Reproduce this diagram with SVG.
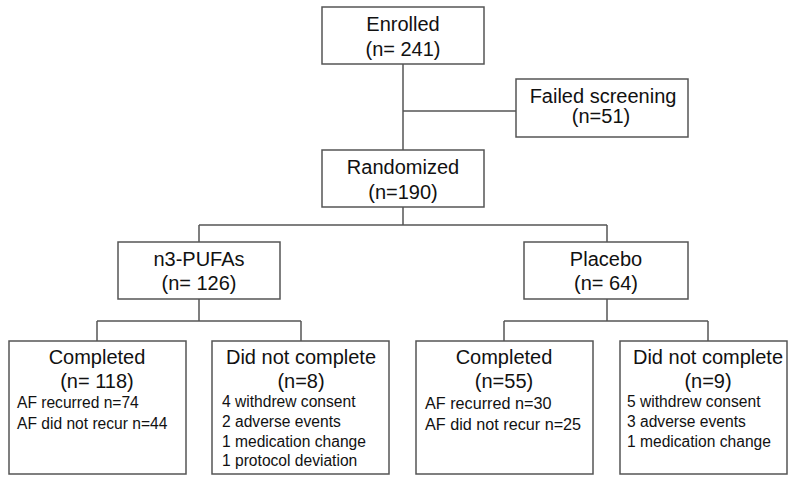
<svg xmlns="http://www.w3.org/2000/svg" width="789" height="477" viewBox="0 0 789 477">
<style>
.box{fill:#fff;stroke:#555;stroke-width:1.5}
.ln{fill:none;stroke:#555;stroke-width:1.5}
.t{font-family:"Liberation Sans",Arial,sans-serif;font-size:20px;fill:#111;text-anchor:middle}
.s{font-family:"Liberation Sans",Arial,sans-serif;font-size:15.6px;fill:#111}
.s2{font-family:"Liberation Sans",Arial,sans-serif;font-size:16.2px;fill:#111}
</style>
<rect width="789" height="477" fill="#fff"/>
<g id="connectors">
<path class="ln" d="M403 64V150M403 111H516"/>
<path class="ln" d="M403 207V225M199 225H607M199 225V242M607 225V242"/>
<path class="ln" d="M199 299V321M97 321H301M97 321V341M301 321V341"/>
<path class="ln" d="M607 299V321M504 321H708M504 321V341M708 321V341"/>
</g>
<g id="enrolled">
<rect class="box" x="322" y="7" width="162" height="57"/>
<text class="t" x="403" y="31">Enrolled</text>
<text class="t" x="403" y="56">(n= 241)</text>
</g>
<g id="failed">
<rect class="box" x="516" y="79" width="172" height="58"/>
<text class="t" x="603" y="103">Failed screening</text>
<text class="t" x="601" y="123">(n=51)</text>
</g>
<g id="randomized">
<rect class="box" x="322" y="150" width="162" height="57"/>
<text class="t" x="403" y="174">Randomized</text>
<text class="t" x="403" y="199">(n=190)</text>
</g>
<g id="pufa">
<rect class="box" x="118" y="242" width="162" height="57"/>
<text class="t" x="199" y="266">n3-PUFAs</text>
<text class="t" x="199" y="290">(n= 126)</text>
</g>
<g id="placebo">
<rect class="box" x="524" y="242" width="164" height="57"/>
<text class="t" x="606" y="266">Placebo</text>
<text class="t" x="606" y="290">(n= 64)</text>
</g>
<g id="pufa-completed">
<rect class="box" x="9" y="341" width="177" height="133"/>
<text class="t" x="97" y="364">Completed</text>
<text class="t" x="97" y="388">(n= 118)</text>
<text class="s" x="17" y="408">AF recurred n=74</text>
<text class="s" x="17" y="429">AF did not recur n=44</text>
</g>
<g id="pufa-dnc">
<rect class="box" x="212" y="341" width="177" height="133"/>
<text class="t" x="301" y="364">Did not complete</text>
<text class="t" x="301" y="388">(n=8)</text>
<text class="s" x="222" y="407">4 withdrew consent</text>
<text class="s" x="222" y="427">2 adverse events</text>
<text class="s" x="222" y="447">1 medication change</text>
<text class="s" x="222" y="466">1 protocol deviation</text>
</g>
<g id="placebo-completed">
<rect class="box" x="416" y="341" width="177" height="133"/>
<text class="t" x="504" y="364">Completed</text>
<text class="t" x="504" y="388">(n=55)</text>
<text class="s2" x="425" y="409">AF recurred n=30</text>
<text class="s2" x="425" y="430">AF did not recur n=25</text>
</g>
<g id="placebo-dnc">
<rect class="box" x="620" y="341" width="167" height="133"/>
<text class="t" x="708" y="364">Did not complete</text>
<text class="t" x="708" y="388">(n=9)</text>
<text class="s" x="627" y="407">5 withdrew consent</text>
<text class="s" x="627" y="427">3 adverse events</text>
<text class="s" x="627" y="447">1 medication change</text>
</g>
</svg>
